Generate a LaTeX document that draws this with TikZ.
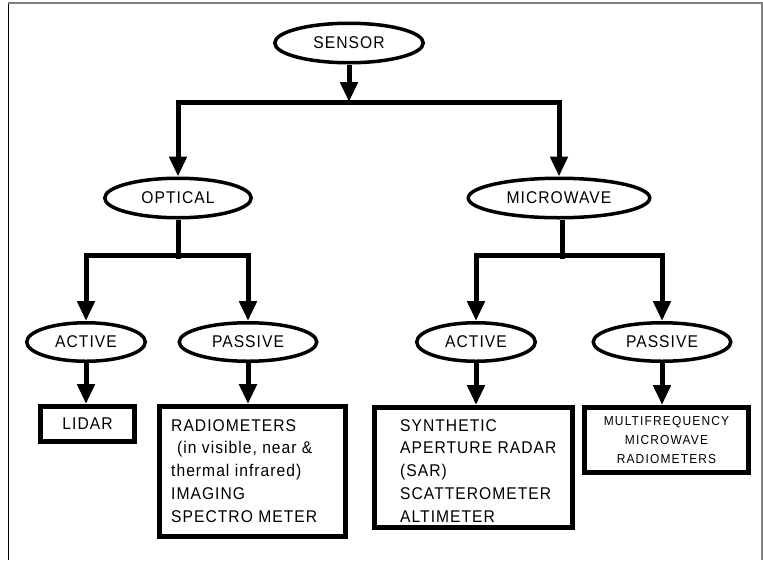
\documentclass[tikz,border=0pt]{standalone}
\usepackage{fontspec}
\setmainfont{Liberation Sans}
\newfontfamily\labfont[LetterSpace=6,FakeStretch=0.92]{Liberation Sans}
\newfontfamily\smallfont[LetterSpace=9,FakeStretch=0.92]{Liberation Sans}
\usetikzlibrary{shapes.geometric,arrows.meta}
\begin{document}
\begin{tikzpicture}[x=1pt,y=-1pt,
  oval/.style={draw,ellipse,line width=3.5pt,inner sep=0pt,minimum height=39.5pt,
    font=\labfont\fontsize{17}{20}\selectfont},
  box/.style={draw,rectangle,line width=5pt,inner sep=0pt},
  boxtext/.style={inner sep=0pt,align=left,font=\labfont\fontsize{17}{22.75}\selectfont},
  conn/.style={line width=5pt,line join=miter},
  arr/.style={conn,-{Triangle[width=17pt,length=20pt]}}]
\useasboundingbox (0,0) rectangle (763,560);
% frame (open at bottom)
\draw[black,line width=1pt] (8,3) -- (8,560);
\draw[gray,line width=1.5pt] (8,3) -- (762,3) -- (762,560);

% ellipses
\node[oval,minimum width=148.5pt] (sensor) at (349,43) {SENSOR};
\node[oval,minimum width=146.5pt] (optical) at (178,198) {OPTICAL};
\node[oval,minimum width=181.5pt] (microwave) at (559,198) {MICROWAVE};
\node[oval,minimum width=118.5pt,minimum height=38.5pt] (oact) at (86,342) {ACTIVE};
\node[oval,minimum width=137.5pt,minimum height=38.5pt] (opas) at (248,342) {PASSIVE};
\node[oval,minimum width=118.5pt,minimum height=38.5pt] (mact) at (476,342) {ACTIVE};
\node[oval,minimum width=137.5pt,minimum height=38.5pt] (mpas) at (662,342) {PASSIVE};

% boxes
\node[box,minimum width=94pt,minimum height=35pt,font=\labfont\fontsize{17}{20}\selectfont] (lidar) at (87.5,424) {LIDAR};
\node[box,minimum width=186pt,minimum height=130pt] (radio) at (252.5,471.5) {};
\node[box,minimum width=198pt,minimum height=120pt] (sar) at (473.5,467.5) {};
\node[box,minimum width=164pt,minimum height=65pt,align=center,
  font=\smallfont\fontsize{13}{19}\selectfont] (multi) at (666.5,440) {MULTIFREQUENCY\\MICROWAVE\\RADIOMETERS};

\node[boxtext,anchor=north west] (radiotext) at (171,419)
  {RADIOMETERS\\\hspace*{6pt}(in visible, near \&\\thermal infrared)\\IMAGING\\SPECTRO METER};
\node[boxtext,anchor=north west] (sartext) at (400,419)
  {SYNTHETIC\\APERTURE RADAR\\(SAR)\\SCATTEROMETER\\ALTIMETER};

% junctions
\coordinate (j1) at (349,102);
\coordinate (j2) at (178,255);
\coordinate (j2s) at (178,259);
\coordinate (j3) at (562,255);
\coordinate (j3s) at (562,259);

% connectors
\draw[arr] (sensor) -- (j1);
\draw[arr] (j1) -| (optical);
\draw[arr] (j1) -| (microwave);

\draw[conn] (optical) -- (j2s);
\draw[arr] (j2) -| (oact);
\draw[arr] (j2) -| (opas);

\draw[conn] (microwave.south -| j3) -- (j3s);
\draw[arr] (j3) -| (mact);
\draw[arr] (j3) -| (mpas);

\draw[arr] (oact) -- (oact |- lidar.north);
\draw[arr] (opas) -- (opas |- radio.north);
\draw[arr] (mact) -- (mact |- sar.north);
\draw[arr] (mpas) -- (mpas |- multi.north);
\end{tikzpicture}
\end{document}
